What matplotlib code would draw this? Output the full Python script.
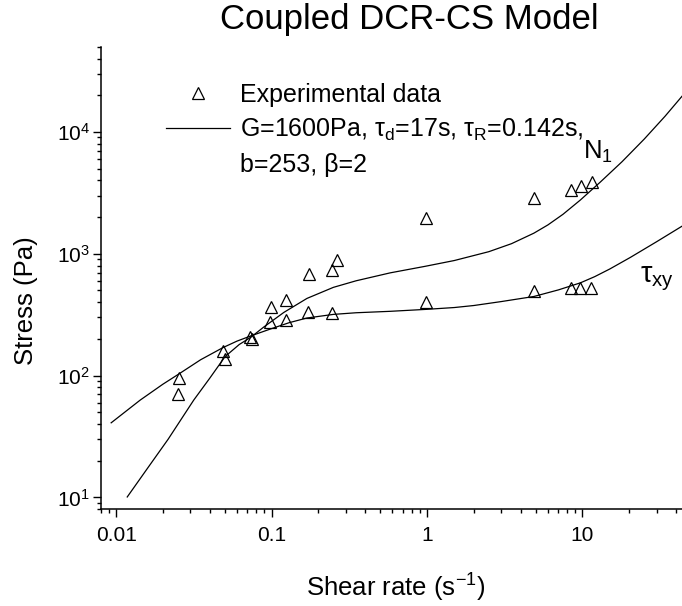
import matplotlib
matplotlib.use("Agg")
import matplotlib.pyplot as plt
from matplotlib.lines import Line2D
from matplotlib.ticker import FixedLocator, FixedFormatter, LogLocator, NullFormatter

plt.rcParams['font.family'] = ['Liberation Sans', 'DejaVu Sans']
plt.rcParams['mathtext.default'] = 'regular'

# experimental points (shear rate in 1/s, stress in Pa)
exp_rate = [0.0253, 0.0250, 0.0488, 0.0502, 0.0725, 0.0745, 0.0997, 0.0975,
            0.124, 0.124, 0.175, 0.171, 0.244, 0.244, 0.264,
            0.98, 0.98, 4.87, 4.87, 8.47, 9.82, 11.56, 8.47, 9.7, 11.3]
exp_stress = [96, 71, 160, 137, 207, 199, 363, 278,
              420, 287, 688, 330, 741, 326, 896,
              1975, 399, 2884, 491, 3313, 3594, 3873, 524, 524, 524]

# model curve, shear stress
txy_rate = [0.0093, 0.0143, 0.02, 0.0253, 0.035, 0.0488, 0.06, 0.0738, 0.1, 0.13,
            0.169, 0.25, 0.35, 0.58, 1.0, 1.5, 2.0, 3.0, 4.87, 7.0, 9.7, 12, 15, 20.3, 30, 43.7]
txy_stress = [41, 63, 85, 103, 135, 170, 192, 212, 243, 272,
              297, 318, 328, 337, 350, 362, 376, 405, 446, 505, 577, 649, 750, 932, 1255, 1683]

# model curve, first normal stress difference
n1_rate = [0.0118, 0.016, 0.0216, 0.0316, 0.04, 0.0502, 0.062, 0.0738, 0.089, 0.12,
           0.169, 0.25, 0.35, 0.58, 0.975, 1.5, 2.5, 3.5, 4.87, 6.0, 7.5, 9.7, 13, 18, 25, 34, 43.7]
n1_stress = [10.1, 17.5, 30, 63, 95, 143, 180, 207, 250, 330,
             430, 530, 600, 697, 789, 880, 1040, 1210, 1475, 1725, 2108, 2761, 3863, 5700, 8740, 13440, 19600]

x_ticks = [0.01, 0.1, 1, 10]
x_ticklabels = ['0.01', '0.1', '1', '10']

fig = plt.figure(figsize=(6.82, 6.06), dpi=100)
ax = fig.add_axes([101 / 682, 96.7 / 606, 581 / 682, 462.6 / 606])

ax.plot(txy_rate, txy_stress, color='black', lw=0.9)
ax.plot(n1_rate, n1_stress, color='black', lw=0.9)
ax.plot(exp_rate, exp_stress, ls='none', marker='^', ms=8.5, mfc='none',
        mec='black', mew=0.9)

ax.set_xscale('log')
ax.set_yscale('log')
ax.set_xlim(0.008, 43.7)
ax.set_ylim(8, 5e4)

ax.xaxis.set_major_locator(FixedLocator(x_ticks))
ax.xaxis.set_major_formatter(FixedFormatter(x_ticklabels))
ax.xaxis.set_minor_locator(LogLocator(base=10, subs=range(2, 10)))
ax.xaxis.set_minor_formatter(NullFormatter())
ax.yaxis.set_minor_locator(LogLocator(base=10, subs=range(2, 10)))
ax.yaxis.set_minor_formatter(NullFormatter())

for side in ['top', 'right']:
    ax.spines[side].set_visible(False)
for side in ['left', 'bottom']:
    ax.spines[side].set_linewidth(1.1)

ax.tick_params(which='major', direction='out', length=5.8, width=1.0, labelsize=15)
ax.tick_params(which='minor', direction='out', length=3, width=1.0)
ax.tick_params(axis='x', which='major', pad=6)
ax.tick_params(axis='y', which='major', pad=2)

ax.set_xlabel('Shear rate (s$^{-1}$)', fontsize=18.5)
ax.xaxis.set_label_coords(0.508, -0.135)
ax.set_ylabel('Stress (Pa)', fontsize=18.5)
ax.yaxis.set_label_coords(-0.108, 0.452)

fig.text(409 / 682, 1 - 29 / 606, 'Coupled DCR-CS Model', fontsize=25,
         ha='center', va='baseline')

ax.text(10.1, 5960, 'N$_1$', fontsize=18.5, ha='left', va='baseline')
ax.text(23.5, 580, 'τ$_{xy}$', fontsize=21, ha='left', va='baseline')

handles = [Line2D([], [], ls='none', marker='^', ms=8.5, mfc='none', mec='black', mew=0.9),
           Line2D([], [], color='black', lw=0.9),
           Line2D([], [], ls='none')]
labels = ['Experimental data',
          'G=1600Pa, τ$_d$=17s, τ$_R$=0.142s,',
          'b=253, β=2']
fig.legend(handles, labels, loc='upper left', bbox_to_anchor=(166 / 682, 1 - 83 / 606),
           frameon=False, fontsize=18, handlelength=2.56, handletextpad=0.4,
           borderpad=0, borderaxespad=0, labelspacing=0.4)

fig.savefig('out.png', dpi=100)
